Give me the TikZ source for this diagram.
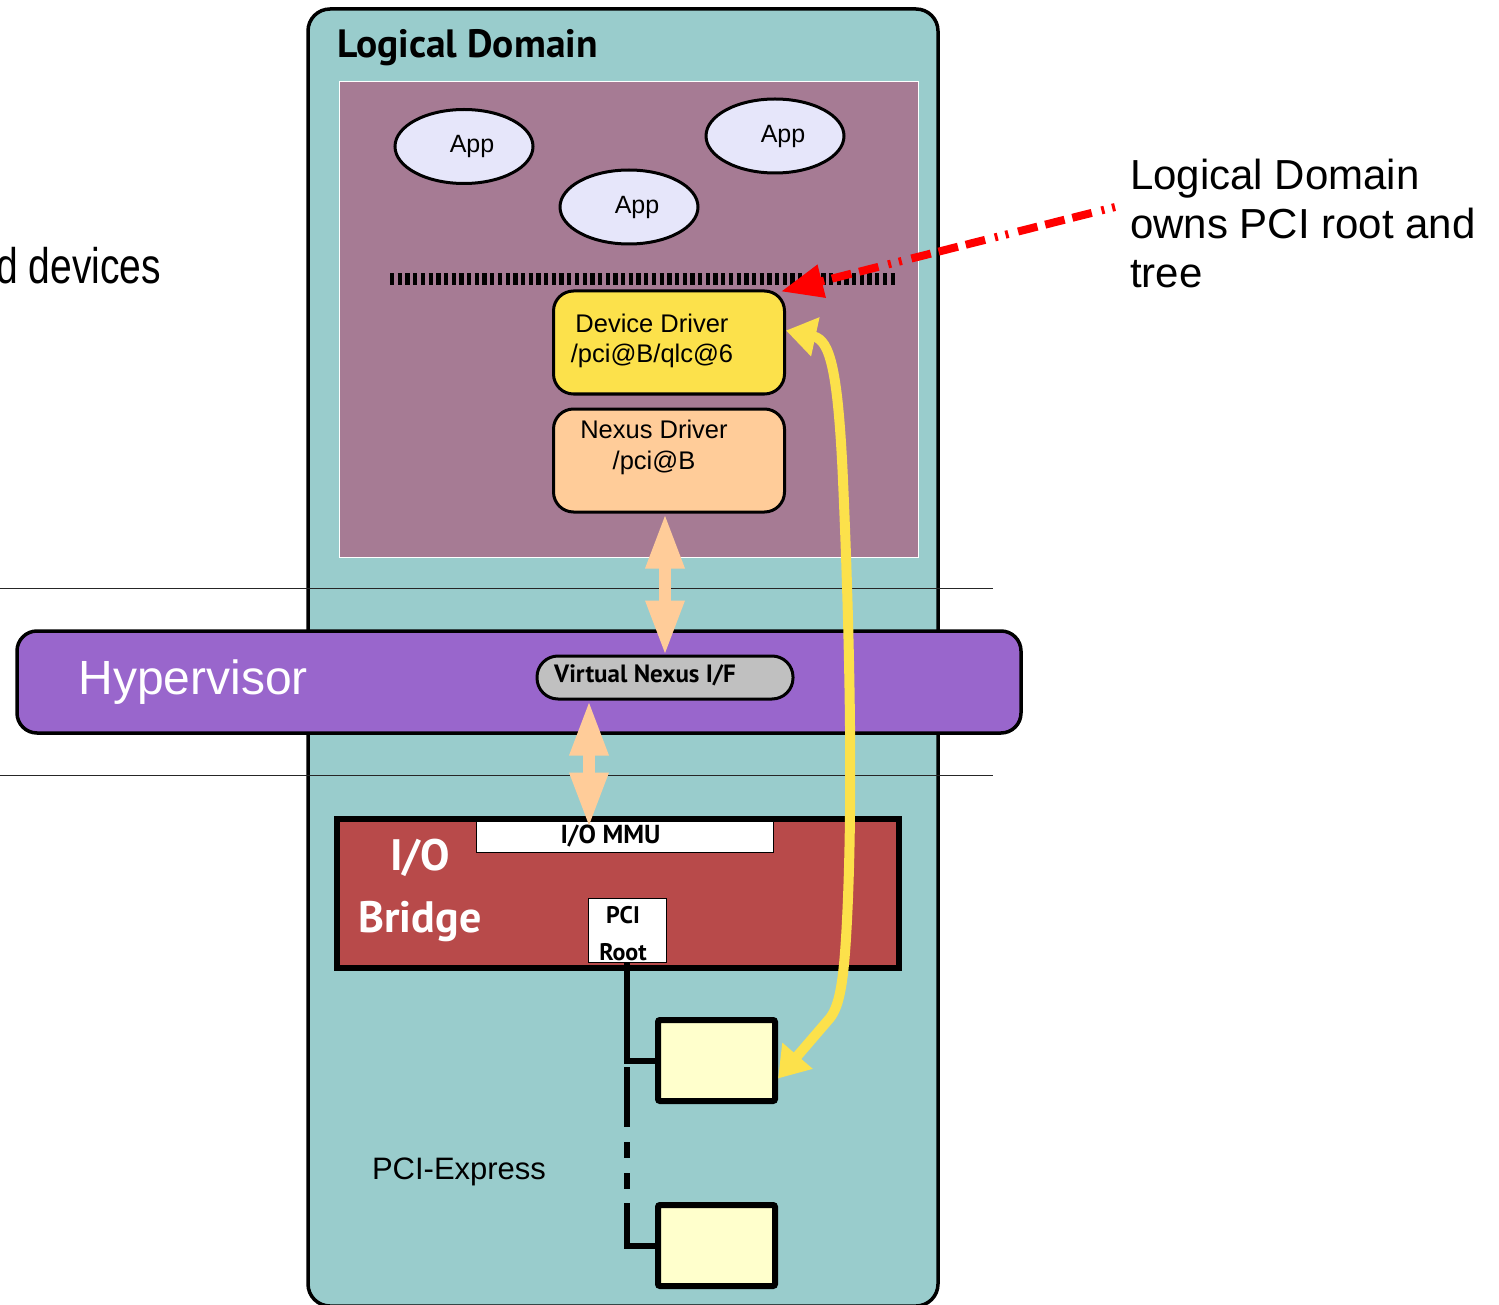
\documentclass[tikz,border=0pt]{standalone}
\usepackage{fontspec}
\setmainfont{Liberation Sans}
\newfontfamily\ptsans{PT Sans}
\newfontfamily\narrowfont[FakeStretch=0.78]{Liberation Sans}
\usetikzlibrary{positioning,arrows.meta,shapes.geometric}

\newcommand{\fsz}[2]{\fontsize{#1}{#2}\selectfont}
\newcommand{\ptbold}{\ptsans\bfseries}

\definecolor{ldteal}{HTML}{99CCCC}
\definecolor{guest}{HTML}{A67B94}
\definecolor{applav}{HTML}{E6E6FA}
\definecolor{ddyellow}{HTML}{FCE14B}
\definecolor{peach}{HTML}{FFCC99}
\definecolor{hvpurple}{HTML}{9966CC}
\definecolor{vngray}{HTML}{C0C0C0}
\definecolor{bridgered}{HTML}{B84A4A}
\definecolor{devcream}{HTML}{FFFFCC}

\begin{document}
\begin{tikzpicture}[x=1pt, y=-1pt,
    app/.style = {draw, ellipse, line width=3pt, fill=applav, minimum width=138pt, minimum height=74pt, inner sep=0pt, font=\fsz{25}{30}},
    drv/.style = {draw, line width=3pt, rounded corners=20pt, minimum width=231pt, minimum height=103pt},
    dev/.style = {draw, line width=6pt, fill=devcream, rounded corners=2pt, minimum width=117pt, minimum height=81pt},
    wbox/.style = {draw, line width=1pt, fill=white, inner sep=0pt},
    inner/.style = {inner sep=0pt, align=center},
    sep/.style = {line width=1pt, black!85},
    bus/.style = {line width=6pt},
    ioarrow/.style = {draw=peach, line width=12pt, arrows={Triangle[length=55pt,width=36pt]-Triangle[length=55pt,width=36pt]}},
    swarrow/.style = {draw=ddyellow, line width=10pt, arrows={Triangle[length=30pt,width=38pt]-Triangle[length=30pt,width=38pt]}},
    ownarrow/.style = {draw=red, line width=8pt, dash pattern=on 3pt off 8pt on 3pt off 10pt on 20pt off 8pt on 20pt off 8pt on 20pt off 10pt, arrows={-Triangle[length=42pt,width=32pt]}}
]
\useasboundingbox (0,0) rectangle (1499,1305);

% logical domain
\node (ld) [draw, line width=3.5pt, rounded corners=22pt, fill=ldteal, minimum width=630pt, minimum height=1297pt] at (623,657.5) {};
\node (ldtitle) [inner, anchor=west, font=\ptbold\fsz{39.5}{44}] at (337,48) {Logical Domain};
\node (os) [draw=white, line width=1pt, fill=guest, minimum width=579pt, minimum height=475pt] at (628.5,319.5) {};

\node (app1) [app] at (464,146.5) {\hspace*{16pt}App};
\node (app2) [app] at (775,136) {\hspace*{16pt}App};
\node (app3) [app] at (629,207) {\hspace*{16pt}App};
\draw[line width=12pt, dash pattern=on 4.3pt off 3.4pt] (390,279) -- (896,279);

\node (dd) [drv, fill=ddyellow, label={[inner, xshift=-17pt, yshift=2pt, font=\fsz{25.5}{30}]center:Device Driver\\/pci@B/qlc@6}] at (669,342.5) {};
\node (nd) [drv, fill=peach, below=12pt of dd, label={[inner, xshift=-15pt, yshift=13pt, font=\fsz{25.5}{31}]center:Nexus Driver\\/pci@B}] {};

\draw[sep] (0,588) -- (993,588);
\draw[sep] (0,775) -- (993,775);

% hypervisor
\node (hyp) [draw, line width=3.5pt, rounded corners=20pt, fill=hvpurple, minimum width=1004pt, minimum height=102pt,
    label={[inner, anchor=west, xshift=63pt, text=white, font=\fsz{48}{56}]west:Hypervisor}] at (519,682) {};
\node (vnif) [draw, line width=3pt, rounded corners=21pt, fill=vngray, minimum width=256pt, minimum height=43pt,
    label={[inner, anchor=west, xshift=18.5pt, yshift=2pt, font=\ptbold\fsz{25}{28}]west:Virtual Nexus I/F}] at (665,677.5) {};

% I/O bridge
\node (bridge) [draw, line width=6pt, fill=bridgered, minimum width=562pt, minimum height=149pt] at (618,893.5) {};
\node (bridgetxt) [inner, text=white, font=\ptbold\fsz{44}{62}] at (420,890) {I/O\\Bridge};
\node (mmu) [wbox, minimum width=297pt, minimum height=31pt, label={[inner, xshift=-14pt, font=\ptbold\fsz{26}{28}]center:I/O MMU}] at (624.5,836.5) {};
\node (root) [wbox, minimum width=78pt, minimum height=64pt, label={[inner, xshift=-4pt, yshift=-3.5pt, font=\ptbold\fsz{24}{37}]center:PCI\\Root}] at (627,930) {};

% PCI-Express tree
\node (dev1) [dev] at (716.5,1060.5) {};
\node (dev2) [dev, below=98pt of dev1] {};
\node (pcie) [inner, font=\fsz{31}{36}] at (459,1172) {PCI-Express};

\draw[bus] (root.south) -- (root.south |- dev1.west) -- (dev1.west);
\draw[bus, dash pattern=on 60pt off 15pt on 16pt off 15pt on 16pt off 14pt on 100pt] ([yshift=-6.5pt]root.south |- dev1.west) -- (root.south |- dev2.west) -- (dev2.west);

% arrows
\draw[ioarrow] (vnif.north |- nd.south) to ([yshift=-1pt]vnif.north);
\draw[ioarrow] ([xshift=-76pt]vnif.south) to ([xshift=-35.5pt,yshift=-7pt]mmu.north);
\draw[swarrow] ([yshift=12pt]dd.east) .. controls (830,340) and (838,370) .. (843,480)
    .. controls (850,640) and (853,800) .. (847,920)
    .. controls (844,980) and (840,1005) .. (830,1018) -- ([yshift=-18pt]dev1.east);

\node (note) [inner, align=left, anchor=west, font=\fsz{42}{49}] at (1130,223) {Logical Domain\\owns PCI root and\\tree};
\coordinate (ownstart) at (1115,207);
\draw[ownarrow] (ownstart) to ([xshift=-5pt,yshift=-2pt]dd.north east);

\node (shared) [inner, anchor=west, font=\narrowfont\fsz{50}{56}] at (-4,266) {d devices};
\end{tikzpicture}
\end{document}
